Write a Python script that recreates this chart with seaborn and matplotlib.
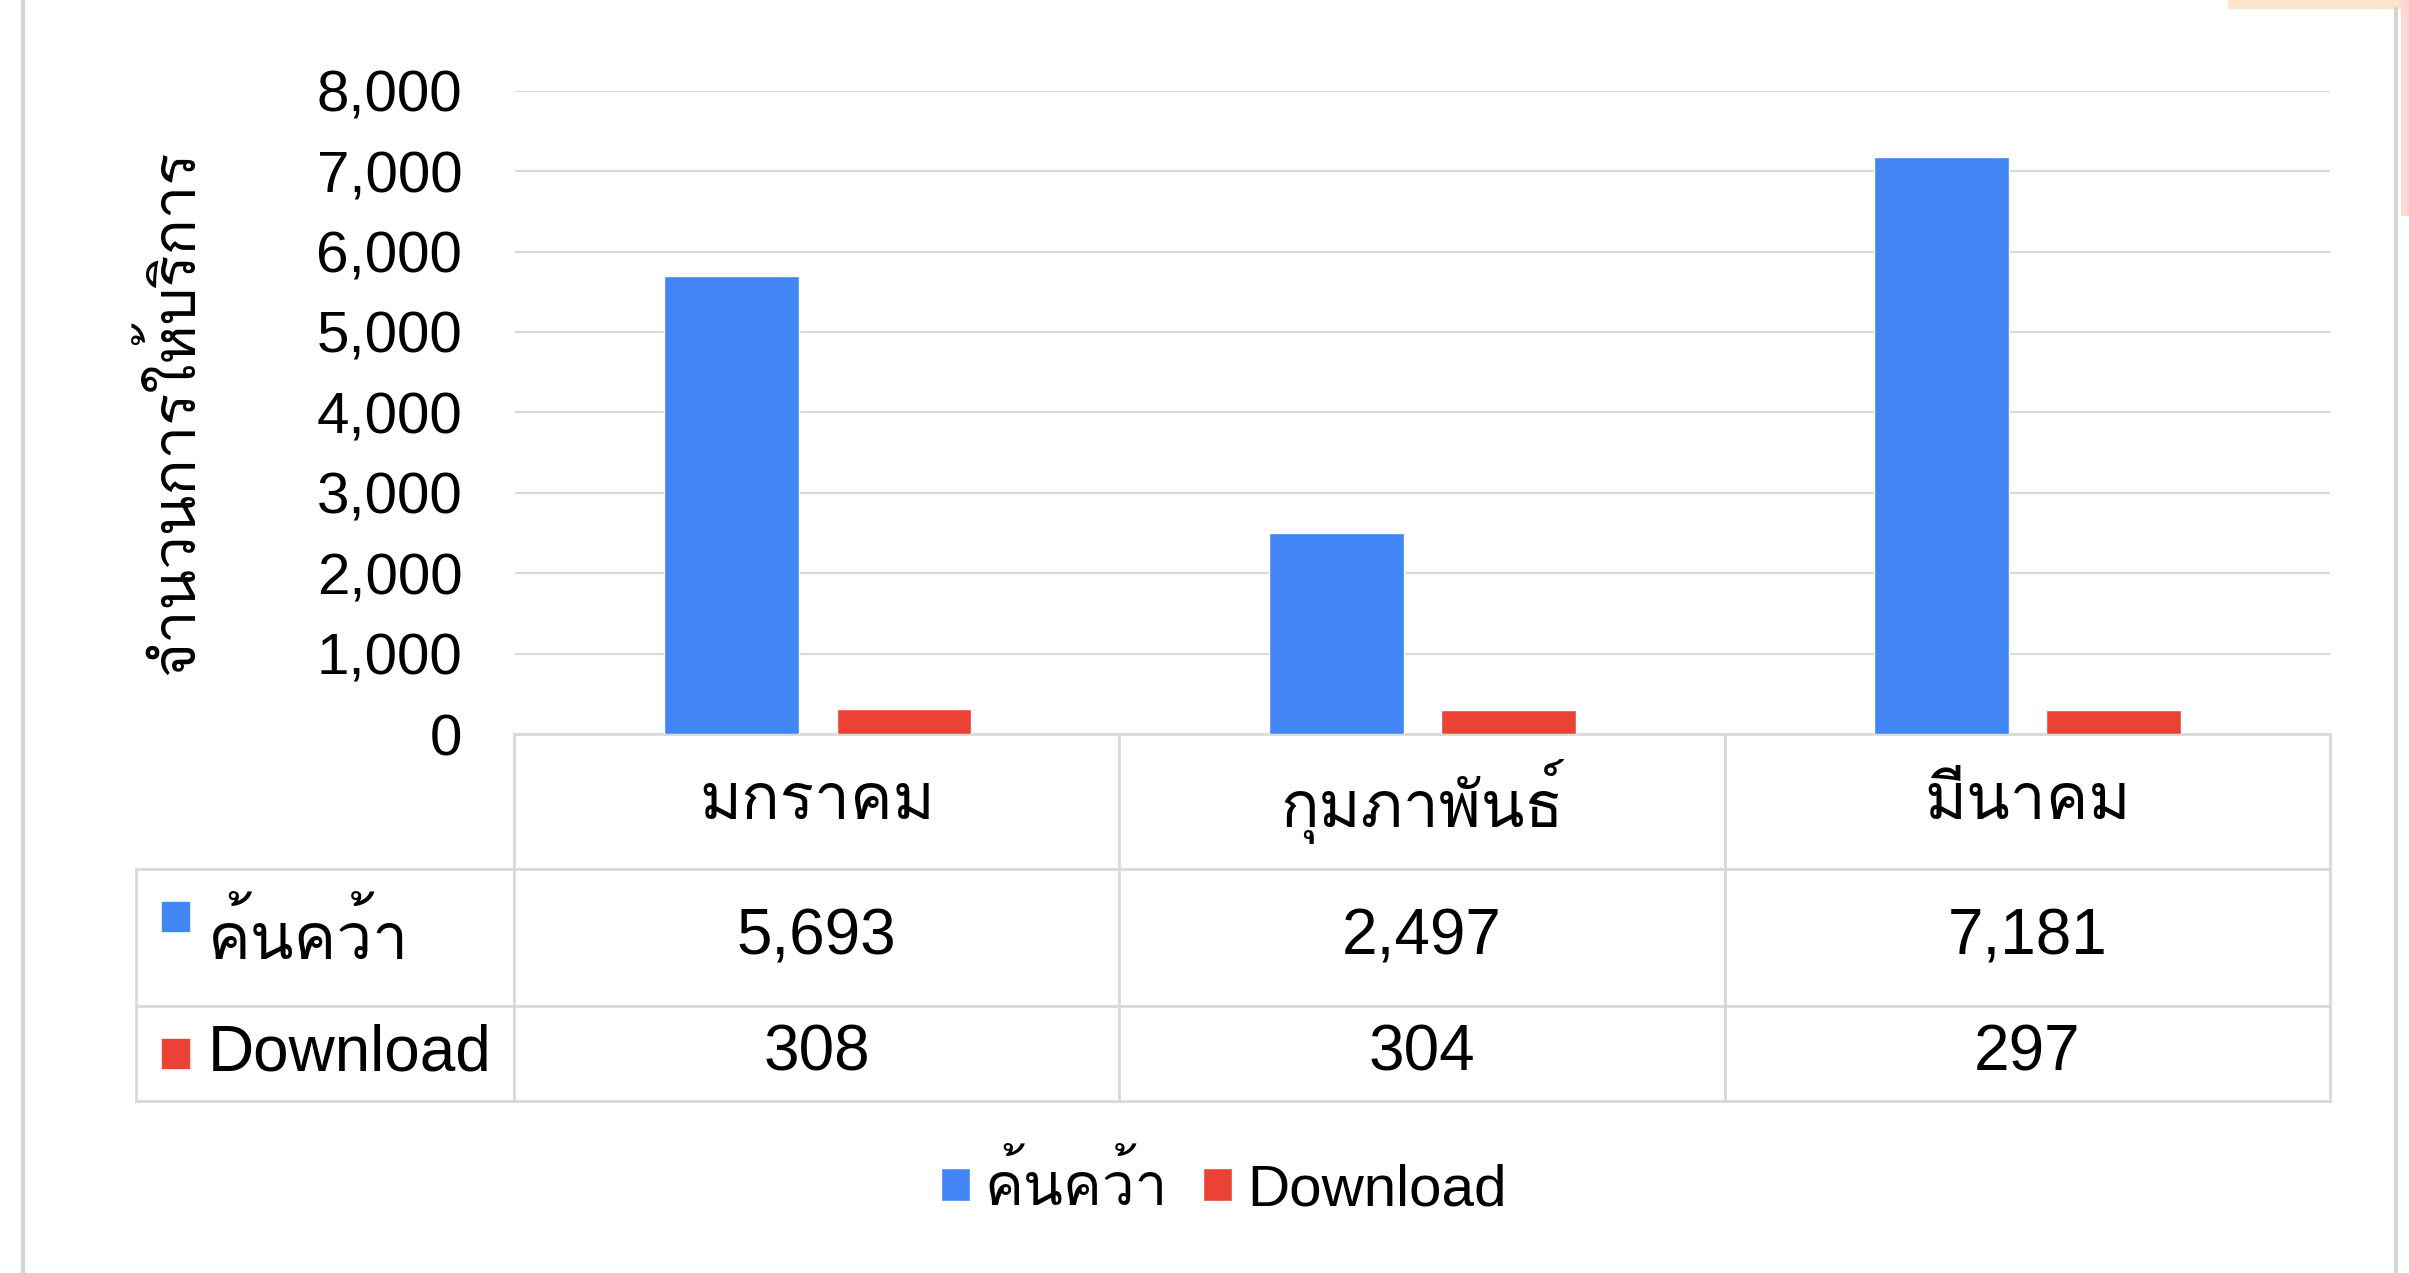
import pandas as pd
import matplotlib
matplotlib.use("Agg")
import matplotlib.pyplot as plt
import seaborn as sns
from matplotlib import font_manager, ft2font
from matplotlib.patches import Rectangle
from matplotlib.lines import Line2D
from matplotlib.ticker import StrMethodFormatter

# data
months = ["มกราคม", "กุมภาพันธ์", "มีนาคม"]
series_names = ["ค้นคว้า", "Download"]
search_counts = [5693, 2497, 7181]
download_counts = [308, 304, 297]
y_ticks = [0, 1000, 2000, 3000, 4000, 5000, 6000, 7000, 8000]
y_label = "จำนวนการให้บริการ"

BLUE = "#4285F4"
RED = "#EA4335"
GRID = "#D9D9D9"


def find_thai_font():
    """first installed font that has Thai glyphs"""
    for f in font_manager.fontManager.ttflist:
        try:
            cmap = ft2font.FT2Font(f.fname).get_charmap()
        except Exception:
            continue
        if ord("ค") in cmap and ord("ม") in cmap:
            return f.name
    return None


sns.set_style("white")
thai_font = find_thai_font()
families = ["Liberation Sans"] + ([thai_font] if thai_font else []) + ["DejaVu Sans"]
plt.rcParams["font.family"] = families
plt.rcParams.update({"text.color": "black", "axes.labelcolor": "black",
                     "xtick.color": "black", "ytick.color": "black"})

df = pd.DataFrame({
    "เดือน": months * 2,
    "ประเภท": [series_names[0]] * 3 + [series_names[1]] * 3,
    "จำนวน": search_counts + download_counts,
})

fig = plt.figure(figsize=(24.09, 12.73), dpi=100)
ax = fig.add_axes([0.2138, 0.4232, 0.7534, 0.5056])

sns.barplot(data=df, x="เดือน", y="จำนวน", hue="ประเภท", order=months,
            hue_order=series_names, palette=[BLUE, RED], width=0.57, gap=0.22,
            saturation=1, ax=ax)
handles, labels = ax.get_legend_handles_labels()
ax.get_legend().remove()

ax.set_ylim(0, 8000)
ax.set_yticks(y_ticks)
ax.yaxis.set_major_formatter(StrMethodFormatter("{x:,.0f}"))
ax.grid(axis="y", color=GRID, linewidth=1.5)
ax.set_axisbelow(True)
for s in ax.spines.values():
    s.set_visible(False)
ax.tick_params(axis="y", length=0, pad=38, labelsize=42)
ax.tick_params(axis="x", length=0, labelbottom=False)
ax.set_xlabel("")
ax.set_ylabel(y_label, fontsize=43, labelpad=80)
ax.set_xlim(-0.5, 2.5)

# data table under the plot
cell_text = [
    [series_names[0]] + [f"{v:,}" for v in search_counts],
    [series_names[1]] + [f"{v:,}" for v in download_counts],
]
tbl = ax.table(cellText=cell_text, colLabels=[""] + months,
               colWidths=[247, 395, 395, 395], cellLoc="center",
               bbox=[-0.209, -0.570, 1.209, 0.570])
tbl.auto_set_font_size(False)
row_h = {0: 88, 1: 89, 2: 62}
for (r, c), cell in tbl.get_celld().items():
    cell.set_edgecolor(GRID)
    cell.set_linewidth(2)
    cell.set_height(row_h[r])
    cell.get_text().set_fontsize(46)
    cell.get_text().set_color("black")
    if r == 0 and c == 0:
        cell.visible_edges = ""
    if c == 0 and r > 0:
        cell.get_text().set_ha("left")
        cell.PAD = 0.19
        cell._loc = "left"

# colour keys inside the table row labels
for y0, col in [(-0.3055, BLUE), (-0.518, RED)]:
    ax.add_patch(Rectangle((-0.1946, y0), 0.0152, 0.0453, transform=ax.transAxes,
                           color=col, clip_on=False))

fig.legend(handles, labels, loc="center", bbox_to_anchor=(0.508, 0.068), ncol=2,
           frameon=False, fontsize=42, handlelength=0.5, handleheight=0.5,
           handletextpad=0.25, columnspacing=0.6)

# card frame from the screenshot
fig.add_artist(Line2D([0.0095, 0.0095], [0, 1], color="#D5D5D5", lw=3))
fig.add_artist(Line2D([0.9948, 0.9948], [0, 0.993], color="#D5D5D5", lw=3))
fig.add_artist(Rectangle((0.925, 0.993), 0.075, 0.007, color="#FFE3CC", lw=0))
fig.add_artist(Rectangle((0.9965, 0.83), 0.0035, 0.17, color="#FFD6D3", lw=0))

plt.savefig("out.png", dpi=100, facecolor="white")
